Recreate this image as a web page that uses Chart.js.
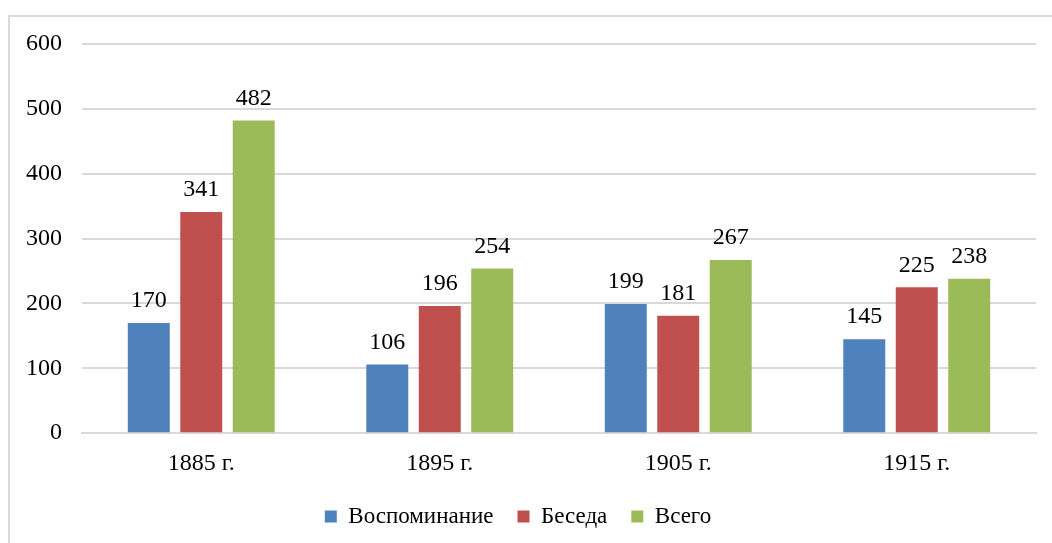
<!DOCTYPE html>
<html>
<head>
<meta charset="utf-8">
<script src="https://cdn.jsdelivr.net/npm/chart.js@4.4.0/dist/chart.umd.min.js"></script>
<style>
  html, body { margin: 0; padding: 0; background: #fff; }
  #wrap { position: relative; width: 1052px; height: 543px; }
  #frame { position: absolute; left: 8px; top: 15px; right: 0; bottom: 0;
           border-left: 2px solid #d9d9d9; border-top: 2px solid #d9d9d9; }
  canvas { position: absolute; left: 0; top: 0; }
</style>
</head>
<body>
<div id="wrap">
  <div id="frame"></div>
  <canvas id="chart" width="1052" height="543"></canvas>
</div>
<script>
const years = ['1885 г.', '1895 г.', '1905 г.', '1915 г.'];
const memories = [170, 106, 199, 145];
const talks = [341, 196, 181, 225];
const totals = [482, 254, 267, 238];
const yTicks = [0, 100, 200, 300, 400, 500, 600];

const serif = "'Liberation Serif', 'Times New Roman', serif";

// Draws the number above each bar
const valueLabels = {
  id: 'valueLabels',
  afterDatasetsDraw(chart) {
    const ctx = chart.ctx;
    ctx.save();
    ctx.font = '24px ' + serif;
    ctx.fillStyle = '#000';
    ctx.textAlign = 'center';
    ctx.textBaseline = 'bottom';
    chart.data.datasets.forEach((ds, i) => {
      chart.getDatasetMeta(i).data.forEach((bar, j) => {
        ctx.fillText(ds.data[j], bar.x, bar.y - 10);
      });
    });
    ctx.restore();
  }
};

// pull the legend a bit closer to the axis labels
const legendNudge = {
  id: 'legendNudge',
  afterLayout(chart) {
    chart.legend.top -= 5;
    chart.legend.bottom -= 5;
  }
};

new Chart(document.getElementById('chart'), {
  type: 'bar',
  data: {
    labels: years,
    datasets: [
      { label: 'Воспоминание', data: memories, backgroundColor: '#4f81bd' },
      { label: 'Беседа', data: talks, backgroundColor: '#c0504d' },
      { label: 'Всего', data: totals, backgroundColor: '#9bbb59' }
    ]
  },
  options: {
    responsive: false,
    animation: false,
    categoryPercentage: 0.66,
    barPercentage: 0.8,
    layout: { padding: { top: 44, right: 16, bottom: 0, left: 0 } },
    plugins: {
      tooltip: { enabled: false },
      legend: {
        position: 'bottom',
        labels: {
          boxWidth: 12, boxHeight: 12, padding: 24,
          color: '#000', font: { family: serif, size: 23 }
        }
      }
    },
    scales: {
      x: {
        grid: { display: false },
        border: { color: '#d9d9d9', width: 2 },
        ticks: { color: '#000', padding: 8, font: { family: serif, size: 24 } }
      },
      y: {
        min: 0, max: 600,
        afterFit(scale) { scale.width = 82; },
        afterBuildTicks(scale) { scale.ticks = yTicks.map(v => ({ value: v })); },
        grid: { color: '#d9d9d9', lineWidth: 2, drawTicks: false },
        border: { display: false },
        ticks: { color: '#000', padding: 20, font: { family: serif, size: 24 } }
      }
    }
  },
  plugins: [valueLabels, legendNudge]
});
</script>
</body>
</html>
